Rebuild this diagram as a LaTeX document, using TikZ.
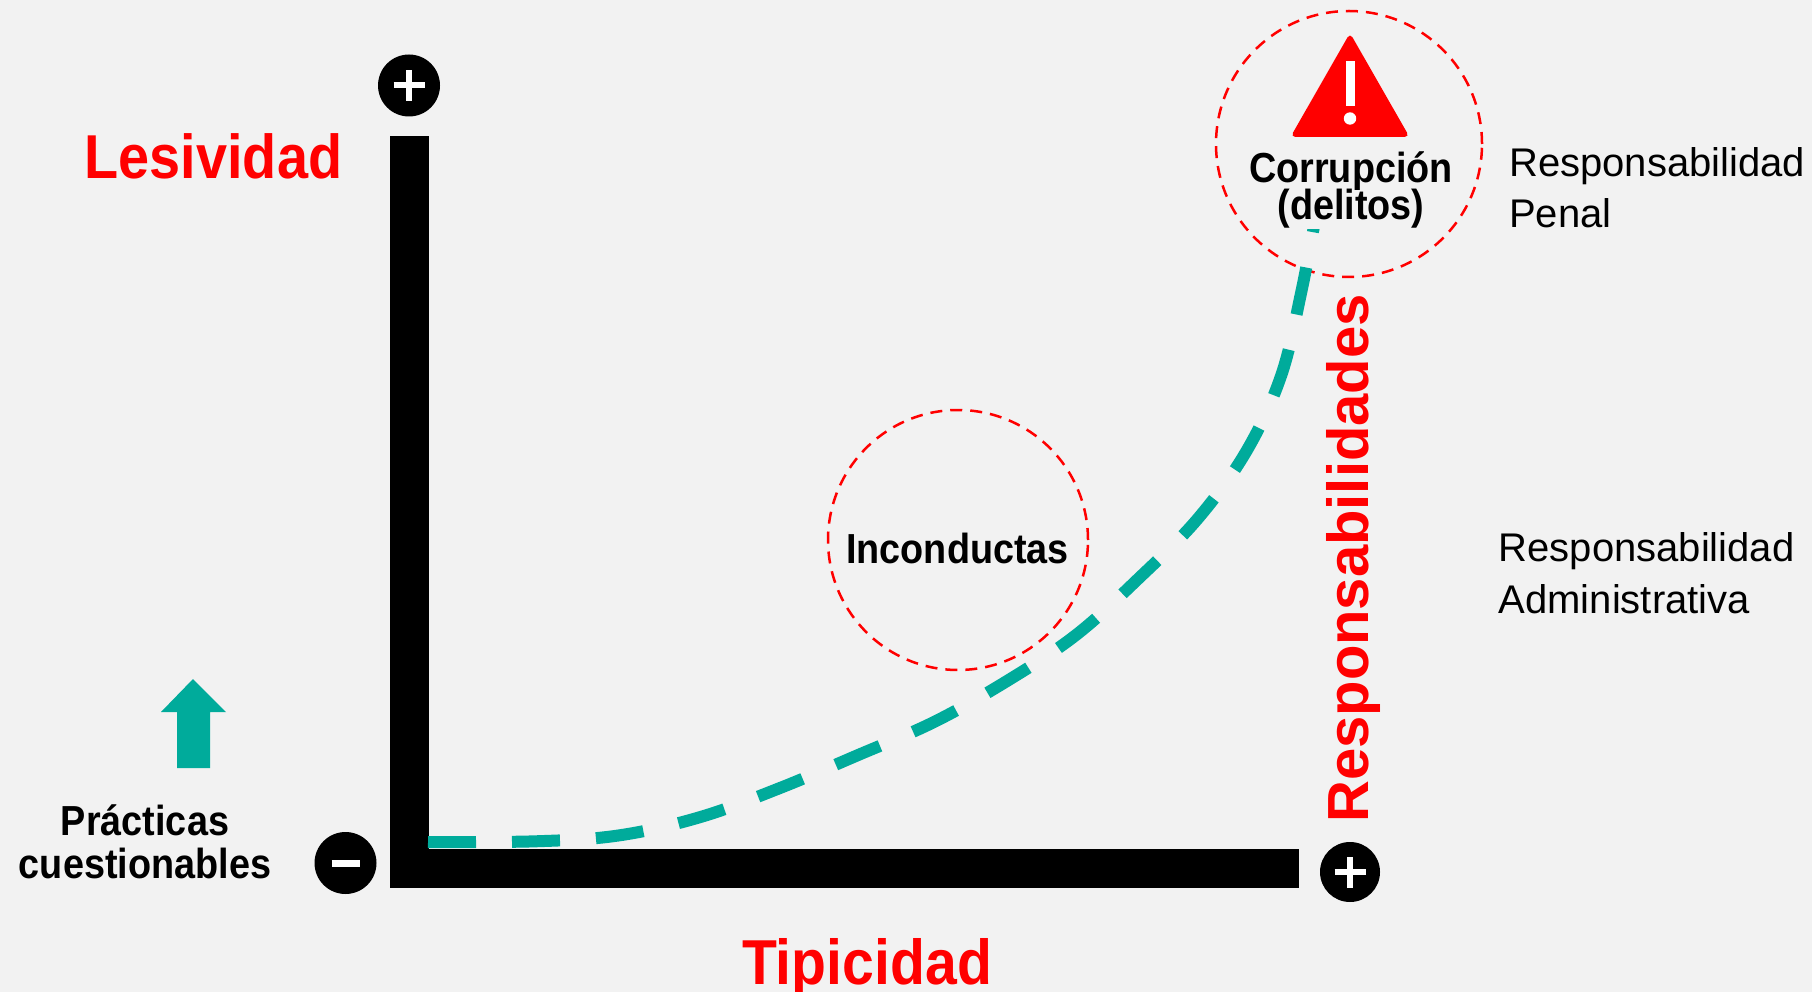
\documentclass[tikz,border=0pt]{standalone}
\usepackage{fontspec}
\setmainfont{Liberation Sans}
\newfontfamily\condf[FakeStretch=0.9]{Liberation Sans}
\definecolor{bg}{HTML}{F2F2F2}
\definecolor{tealc}{HTML}{00AB9B}
\definecolor{redc}{HTML}{FF0000}
\begin{document}
\begin{tikzpicture}[x=1pt,y=-1pt,
  bigred/.style={font=\condf\bfseries\fontsize{62}{62}\selectfont, text=redc, inner sep=0pt, anchor=base},
  blab/.style={font=\condf\bfseries\fontsize{42}{42}\selectfont, text=black, inner sep=0pt, anchor=base},
  rlab/.style={font=\fontsize{40}{40}\selectfont, text=black, inner sep=0pt, anchor=base west},
  sign/.style={circle, fill=black, minimum size=62pt, inner sep=0pt},
  dcircle/.style={circle, draw=redc, line width=2.5pt, dash pattern=on 12pt off 8pt, inner sep=0pt},
  signline/.style={white, line width=6pt},
]
\useasboundingbox (0,0) rectangle (1812,992);
\fill[bg] (0,0) rectangle (1812,992);

% dashed circles
\node[dcircle, minimum size=266pt] (ccirc) at (1349,144) {};
\node[dcircle, minimum size=260pt] (icirc) at (958,540) {};

% axes
\fill[black] (390,136) rectangle (429,888);
\fill[black] (390,849) rectangle (1299,888);

% sign circles
\node[sign] (ptop) at (409,85.5) {};
\draw[signline] ([xshift=-15.5pt]ptop.center) -- ([xshift=15.5pt]ptop.center);
\draw[signline] ([yshift=-15.5pt]ptop.center) -- ([yshift=15.5pt]ptop.center);
\node[sign] (pminus) at (345.5,863) {};
\draw[signline, line width=7pt] ([xshift=-14pt]pminus.center) -- ([xshift=14pt]pminus.center);
\node[sign, minimum size=60pt] (pright) at (1350,872) {};
\draw[signline] ([xshift=-15.5pt]pright.center) -- ([xshift=15.5pt]pright.center);
\draw[signline] ([yshift=-15.5pt]pright.center) -- ([yshift=15.5pt]pright.center);

% teal dashed curve
\draw[tealc, line width=12pt, dash pattern=on 48pt off 36pt]
  plot[smooth, tension=0.6] coordinates {(428,842) (535.6,841.3) (619,835.4) (700.5,817) (780,788) (857,755.5) (934,722) (1007,681) (1076,635) (1138,579) (1197.5,519) (1246.5,451) (1281,376) (1301,293.3) (1316,215)};

% warning triangle
\fill[redc, rounded corners=5pt] (1350,137) -- (1409.5,137) -- (1350,33) -- (1290.5,137) -- cycle;
\fill[white] (1345.5,61) rectangle (1354.5,106);
\fill[white] (1350,118.5) circle (6.2);

% teal arrow
\fill[tealc] (193,679) -- (226,712) -- (210,712) -- (210,768) -- (177,768) -- (177,712) -- (161,712) -- cycle;

% texts
\node[bigred] (les) at (213.5,179) {Lesividad};
\node[bigred, font=\condf\bfseries\fontsize{63.5}{63.5}\selectfont] (tip) at (867,984) {Tipicidad};
\node[blab] (pr1) at (145,835) {Prácticas};
\node[blab] (pr2) at (145,878) {cuestionables};
\node[blab] (co1) at (1351,183) {Corrupción};
\node[blab, fill=bg, inner xsep=3pt, inner ysep=0pt] (co2) at (1351,220) {(delitos)};
\node[blab] (inc) at (957.5,563.5) {Inconductas};
\node[rlab] (rp1) at (1509,177) {Responsabilidad};
\node[rlab] (rp2) at (1509,228) {Penal};
\node[rlab] (ra1) at (1498.5,561.5) {Responsabilidad};
\node[rlab] (ra2) at (1498.5,613) {Administrativa};
\node[font=\bfseries\fontsize{58}{58}\selectfont, text=redc, rotate=90, anchor=base, inner sep=0pt] (resp) at (1368,558.5) {Responsabilidades};
\end{tikzpicture}
\end{document}
